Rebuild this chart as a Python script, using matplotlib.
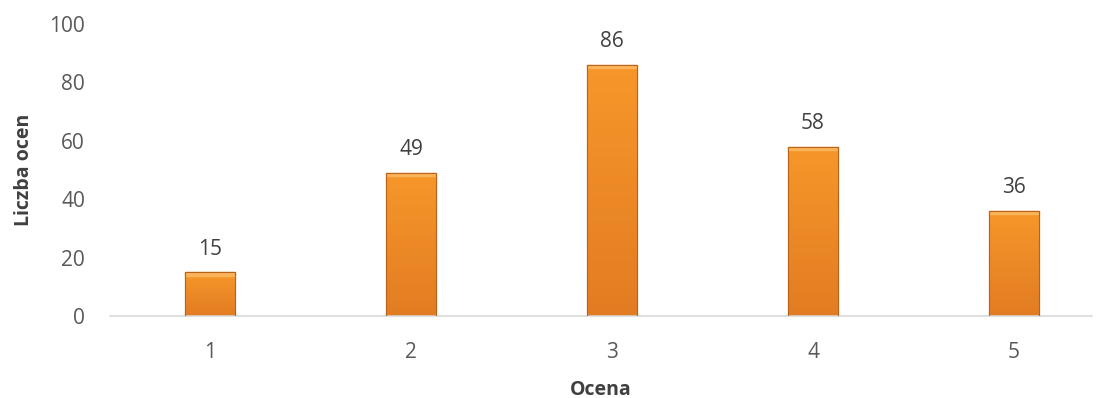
import matplotlib.pyplot as plt
import numpy as np

# ===== data =====
categories = ["1", "2", "3", "4", "5"]
counts = [15, 49, 86, 58, 36]

plt.rcParams["font.family"] = ["Open Sans", "DejaVu Sans"]

fig = plt.figure(figsize=(11.02, 3.98), dpi=100)
ax = fig.add_axes([110 / 1102, (398 - 316) / 398, (1092 - 110) / 1102, 292 / 398])

x = np.arange(1, len(categories) + 1)
bars = ax.bar(x, counts, width=0.25, color="#F39324", edgecolor="#B8631C",
              linewidth=0.8, zorder=2)

# soft vertical shading inside each bar
grad = np.linspace(0, 1, 256).reshape(-1, 1)
cmap = plt.matplotlib.colors.LinearSegmentedColormap.from_list(
    "o", ["#E27C22", "#F7972A"])
for b in bars:
    x0, y0 = b.get_x(), b.get_y()
    w, h = b.get_width(), b.get_height()
    im = ax.imshow(grad, extent=[x0, x0 + w, y0, y0 + h], origin="lower",
                   cmap=cmap, aspect="auto", zorder=2.5)
    im.set_clip_path(b)
    # bevel at top
    ax.fill_between([x0, x0 + w], y0 + h - 1.2, y0 + h, color="#FBB35A",
                    zorder=2.6, clip_path=b)
    ax.bar(x0 + w / 2, h, width=w, fill=False, edgecolor="#B8631C",
           linewidth=0.8, zorder=3)

for xi, v in zip(x, counts):
    ax.annotate(str(v), (xi, v), xytext=(0, 9), textcoords="offset points",
                ha="center", va="bottom", fontsize=15, color="#404040")

ax.set_xlim(1 - 100 / 201, 5 + 78 / 201)
ax.set_ylim(0, 100)
ax.set_yticks(range(0, 101, 20))
ax.set_xticks(x)
ax.set_xticklabels(categories)

for s in ["top", "right", "left"]:
    ax.spines[s].set_visible(False)
ax.spines["bottom"].set_color("#D9D9D9")
ax.spines["bottom"].set_linewidth(1.2)
ax.tick_params(axis="both", length=0, labelsize=15, labelcolor="#595959")
ax.tick_params(axis="y", pad=18)
ax.tick_params(axis="x", pad=19)

ax.set_ylabel("Liczba ocen", fontsize=14, fontweight="bold", color="#404040",
              labelpad=11)
ax.set_xlabel("Ocena", fontsize=14, fontweight="bold", color="#404040",
              labelpad=12)

fig.savefig("out.png", dpi=100)
